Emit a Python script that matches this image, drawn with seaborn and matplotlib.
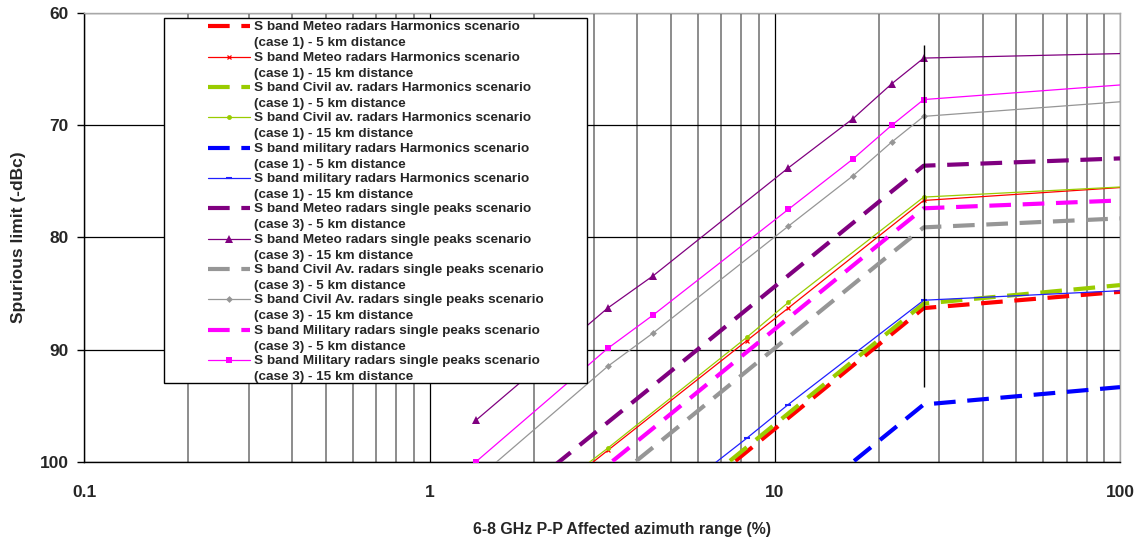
import numpy as np
import pandas as pd
import matplotlib
matplotlib.use("Agg")
import matplotlib.pyplot as plt
from matplotlib.lines import Line2D
from matplotlib.patches import Rectangle
from matplotlib.legend_handler import HandlerLine2D
from matplotlib.ticker import LogLocator, NullFormatter, FixedLocator, FixedFormatter
import seaborn as sns

sns.set_style("white")
plt.rcParams["font.family"] = ["Liberation Sans", "DejaVu Sans"]
plt.rcParams["font.weight"] = "bold"

# Affected azimuth range (%) at which each scenario was evaluated
x_sp = [1.363, 3.28, 4.45, 10.94, 16.85, 21.8, 27.0, 100.0]
x_h = [1.363, 3.28, 8.3, 10.94, 27.0, 100.0]

# Spurious limit (-dBc), harmonics scenario (case 1)
meteo_h_5km = [118.7, 109.2, 99.1, 96.1, 86.3, 84.85]
meteo_h_15km = [108.3, 99.0, 89.2, 86.3, 76.7, 75.55]
civil_h_5km = [118.3, 108.8, 98.7, 95.7, 85.9, 84.25]
civil_h_15km = [107.8, 98.8, 88.9, 85.8, 76.4, 75.5]
military_h_5km = [127.3, 117.8, 107.7, 104.7, 94.9, 93.35]
military_h_15km = [116.7, 107.6, 97.9, 94.9, 85.6, 84.75]

# Spurious limit (-dBc), single peaks scenario (case 3)
meteo_sp_5km = [106.0, 96.5, 93.2, 83.4, 78.7, 75.9, 73.6, 72.95]
meteo_sp_15km = [96.3, 86.3, 83.4, 73.8, 69.4, 66.3, 64.0, 63.6]
civil_sp_5km = [111.5, 102.0, 98.7, 88.9, 84.2, 81.4, 79.1, 78.3]
civil_sp_15km = [101.6, 91.5, 88.5, 79.0, 74.5, 71.5, 69.2, 67.9]
military_sp_5km = [109.8, 100.3, 97.0, 87.2, 82.5, 79.7, 77.4, 76.7]
military_sp_15km = [100.0, 89.9, 86.9, 77.5, 73.0, 70.0, 67.7, 66.4]

# Start of the flat part of every curve
break_x = 27.0
break_span = [62.8, 93.3]

labels = [
    "S band Meteo radars Harmonics scenario\n(case 1) - 5 km distance",
    "S band Meteo radars Harmonics scenario\n(case 1) - 15 km distance",
    "S band Civil av. radars Harmonics scenario\n(case 1) - 5 km distance",
    "S band Civil av. radars Harmonics scenario\n(case 1) - 15 km distance",
    "S band military radars Harmonics scenario\n(case 1) - 5 km distance",
    "S band military radars Harmonics scenario\n(case 1) - 15 km distance",
    "S band Meteo radars single peaks scenario\n(case 3) - 5 km distance",
    "S band Meteo radars single peaks scenario\n(case 3) - 15 km distance",
    "S band Civil Av. radars single peaks scenario\n(case 3) - 5 km distance",
    "S band Civil Av. radars single peaks scenario\n(case 3) - 15 km distance",
    "S band Military radars single peaks scenario\n(case 3) - 5 km distance",
    "S band Military radars single peaks scenario\n(case 3) - 15 km distance",
]

DASH = (0, (5.2, 2.8))
series = [
    (x_h, meteo_h_5km, dict(color="#FF0000", lw=3.0, ls=DASH, marker=None)),
    (x_h, meteo_h_15km, dict(color="#FF0000", lw=0.9, ls="-", marker="x", ms=3.5, mew=0.9)),
    (x_h, civil_h_5km, dict(color="#99CC00", lw=3.0, ls=DASH, marker=None)),
    (x_h, civil_h_15km, dict(color="#99CC00", lw=0.9, ls="-", marker="o", ms=3.5, mew=0)),
    (x_h, military_h_5km, dict(color="#0000FF", lw=3.0, ls=DASH, marker=None)),
    (x_h, military_h_15km, dict(color="#2020FF", lw=0.9, ls="-", marker="_", ms=4, mew=1.5)),
    (x_sp, meteo_sp_5km, dict(color="#800080", lw=3.0, ls=DASH, marker=None)),
    (x_sp, meteo_sp_15km, dict(color="#800080", lw=0.9, ls="-", marker="^", ms=5.5, mew=0)),
    (x_sp, civil_sp_5km, dict(color="#969696", lw=3.0, ls=DASH, marker=None)),
    (x_sp, civil_sp_15km, dict(color="#969696", lw=0.9, ls="-", marker="D", ms=3.5, mew=0)),
    (x_sp, military_sp_5km, dict(color="#FF00FF", lw=3.0, ls=DASH, marker=None)),
    (x_sp, military_sp_15km, dict(color="#FF00FF", lw=0.9, ls="-", marker="s", ms=4.5, mew=0)),
]

fig = plt.figure(figsize=(11.39, 5.44), dpi=100)
ax = fig.add_axes([0.0741, 0.1513, 0.9092, 0.8244])

handles = []
for (xs, ys, st), lab in zip(series, labels):
    df = pd.DataFrame({"x": xs, "y": ys})
    kw = dict(color=st["color"], linewidth=st["lw"], linestyle=st["ls"])
    if st["marker"]:
        kw.update(marker=st["marker"], markersize=st["ms"], markeredgewidth=st["mew"],
                  markeredgecolor=st["color"], markerfacecolor=st["color"])
    sns.lineplot(data=df, x="x", y="y", ax=ax, sort=False, estimator=None, zorder=3, **kw)
    line = ax.lines[-1]
    line.set_dash_capstyle("butt")
    if st["marker"]:
        line.set_markevery(list(range(len(xs) - 1)))
    handles.append(Line2D([], [], **kw))

ax.vlines(break_x, break_span[0], break_span[1], color="black", lw=1.0, zorder=3)

ax.set_xscale("log")
ax.set_xlim(0.1, 100)
ax.set_ylim(100, 60)

ax.xaxis.set_major_locator(FixedLocator([0.1, 1, 10, 100]))
ax.xaxis.set_major_formatter(FixedFormatter(["0.1", "1", "10", "100"]))
ax.xaxis.set_minor_locator(LogLocator(base=10, subs=np.arange(2, 10)))
ax.xaxis.set_minor_formatter(NullFormatter())
ax.set_yticks([60, 70, 80, 90, 100])

ax.grid(which="major", axis="both", color="black", lw=0.9, zorder=0)
ax.grid(which="minor", axis="x", color="#6e6e6e", lw=1.1, zorder=0)
ax.set_axisbelow(True)

ax.tick_params(axis="x", which="both", length=0, pad=16.5, labelsize=12.5)
ax.tick_params(axis="y", which="major", length=5, width=1, color="black", pad=6.5,
               labelsize=12.5, direction="out", left=True)
for lab in ax.get_xticklabels() + ax.get_yticklabels():
    lab.set_fontweight("bold")

for side in ("left", "bottom"):
    ax.spines[side].set_color("black")
    ax.spines[side].set_linewidth(1.0)
for side in ("top", "right"):
    ax.spines[side].set_color("#a8a8a8")
    ax.spines[side].set_linewidth(1.0)

ax.set_ylabel("Spurious limit (-dBc)", fontsize=12.5, fontweight="bold")
ax.set_xlabel("6-8 GHz P-P Affected azimuth range (%)", fontsize=11.4, fontweight="bold")
ax.yaxis.set_label_coords(-0.064, 0.5)
ax.yaxis.label.set_va("center")
ax.xaxis.set_label_coords(0.519, -0.152)
ax.xaxis.label.set_va("center")

LINE_GAP = 1.45  # line spacing inside each two-line legend label


class FirstLineHandler(HandlerLine2D):
    """Legend line drawn level with the first line of a two-line label."""

    def create_artists(self, legend, orig_handle, xdescent, ydescent,
                       width, height, fontsize, trans):
        artists = super().create_artists(legend, orig_handle, xdescent, ydescent,
                                         width, height, fontsize, trans)
        for a in artists:
            a.set_ydata(np.asarray(a.get_ydata(), dtype=float) + 0.45 * LINE_GAP * fontsize)
        return artists


# legend box
box = Rectangle((0.0769, 0.175), 0.485 - 0.0769, 0.989 - 0.175, transform=ax.transAxes,
                facecolor="white", edgecolor="black", lw=1.0, zorder=5)
ax.add_patch(box)

leg = ax.legend(handles, labels, loc="upper left", bbox_to_anchor=(0.1196, 0.982),
                frameon=False, handlelength=3.1, handletextpad=0.3,
                labelspacing=0.17, borderpad=0.0, borderaxespad=0.0, numpoints=1,
                handler_map={Line2D: FirstLineHandler()},
                prop={"weight": "bold", "size": 9.7})
for t in leg.get_texts():
    t.set_linespacing(LINE_GAP)
leg.set_zorder(6)

fig.savefig("out.png", dpi=100)
